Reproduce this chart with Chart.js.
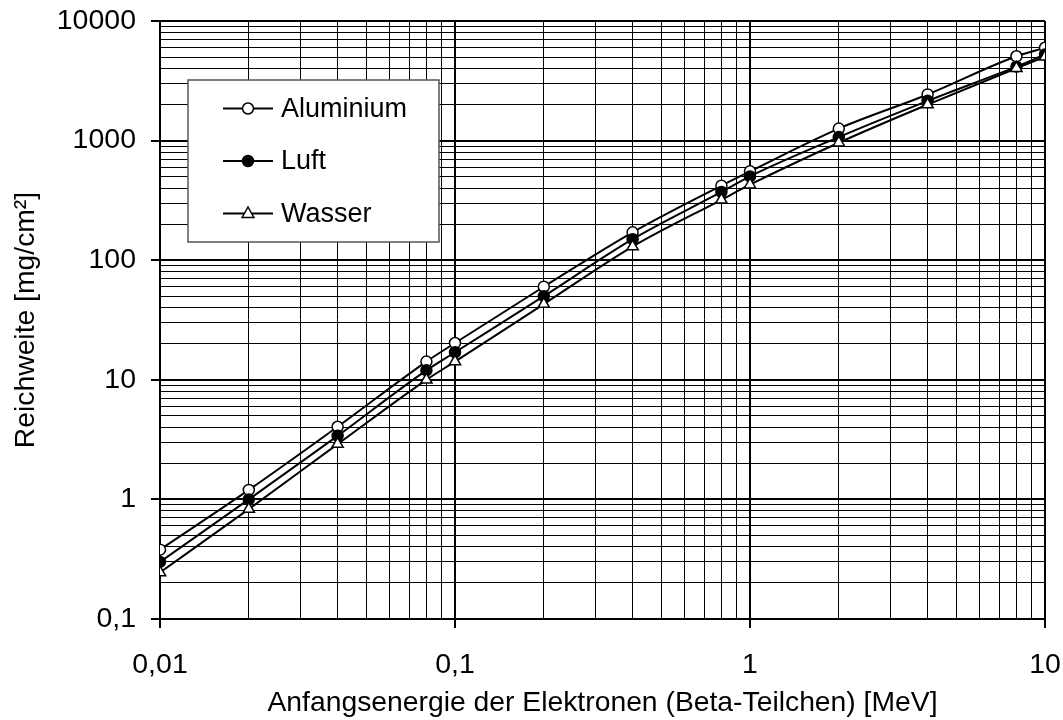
<!DOCTYPE html>
<html lang="de">
<head>
<meta charset="utf-8">
<title>Reichweite von Beta-Teilchen</title>
<script src="https://cdn.jsdelivr.net/npm/chart.js@4/dist/chart.umd.min.js"></script>
<style>
    html, body { margin: 0; padding: 0; background: #fff; }
    .chart-box { width: 1063px; height: 720px; position: relative; }
</style>
</head>
<body>
<div class="chart-box"><canvas id="rangeChart"></canvas></div>
<script>
// Data
const energy = [0.01, 0.02, 0.04, 0.08, 0.1, 0.2, 0.4, 0.8, 1, 2, 4, 8, 10];
const aluminium = [0.38, 1.2, 4.05, 14.2, 20.3, 60, 171, 420, 553, 1260, 2430, 5070, 5970];
const luft = [0.30, 1.0, 3.4, 12, 17, 50, 150, 372, 502, 1070, 2150, 4150, 5250];
const wasser = [0.245, 0.83, 2.9, 10, 14.2, 43, 130, 320, 428, 960, 2000, 4030, 5020];

const seriesNames = ['Aluminium', 'Luft', 'Wasser'];

// Axis ticks (German decimal comma)
const xMajor = [0.01, 0.1, 1, 10];
const xTickLabels = ['0,01', '0,1', '1', '10'];
const yMajor = [0.1, 1, 10, 100, 1000, 10000];
const yTickLabels = ['0,1', '1', '10', '100', '1000', '10000'];

const FONT = 'Liberation Sans, Arial, sans-serif';

// Every decade gets minor ticks at 2..9
function buildLogTicks(majors) {
    const ticks = [];
    majors.forEach((m, i) => {
        ticks.push({ value: m, major: true });
        if (i < majors.length - 1) {
            for (let k = 2; k <= 9; k++) {
                ticks.push({ value: Number((m * k).toPrecision(6)), major: false });
            }
        }
    });
    return ticks;
}

function toPoints(values) {
    return values.map((v, i) => ({ x: energy[i], y: v }));
}

function makeDataset(label, values, style, fill, order) {
    return {
        label: label,
        data: toPoints(values),
        borderColor: '#000',
        borderWidth: 2,
        pointStyle: style,
        pointRadius: style === 'triangle' ? 6.5 : 5.5,
        pointBorderWidth: 1.5,
        pointBorderColor: '#000',
        pointBackgroundColor: fill,
        backgroundColor: fill,
        cubicInterpolationMode: 'monotone',
        order: order
    };
}

// Legend box drawn inside the plot, like the original
const insideLegend = {
    id: 'insideLegend',
    afterDraw(chart) {
        const ctx = chart.ctx;
        const box = { left: 188, top: 80, width: 251, height: 162 };
        ctx.save();
        ctx.fillStyle = '#fff';
        ctx.fillRect(box.left, box.top, box.width, box.height);
        ctx.strokeStyle = '#555';
        ctx.lineWidth = 1.5;
        ctx.strokeRect(box.left, box.top, box.width, box.height);

        chart.data.datasets.forEach((ds, i) => {
            const y = 108.5 + i * 52.5;
            ctx.strokeStyle = '#000';
            ctx.lineWidth = 2;
            ctx.beginPath();
            ctx.moveTo(223, y);
            ctx.lineTo(273, y);
            ctx.stroke();

            ctx.fillStyle = ds.pointBackgroundColor;
            ctx.lineWidth = 1.5;
            ctx.beginPath();
            if (ds.pointStyle === 'triangle') {
                const r = 6.5;
                ctx.moveTo(248, y - r);
                ctx.lineTo(248 + r * 0.9, y + r * 0.6);
                ctx.lineTo(248 - r * 0.9, y + r * 0.6);
                ctx.closePath();
            } else {
                ctx.arc(248, y, 5.5, 0, Math.PI * 2);
            }
            ctx.fill();
            ctx.stroke();

            ctx.fillStyle = '#000';
            ctx.font = '27px ' + FONT;
            ctx.textAlign = 'left';
            ctx.textBaseline = 'alphabetic';
            ctx.fillText(ds.label, 281, y + 8);
        });
        ctx.restore();
    }
};

function gridOptions() {
    return {
        color: '#000',
        lineWidth: c => (c.tick && c.tick.major ? 2 : 1),
        tickColor: c => (c.tick && c.tick.major ? '#000' : 'rgba(0,0,0,0)'),
        tickWidth: 2,
        tickLength: 9,
        drawOnChartArea: true
    };
}

function initializeChart() {
    const ctx = document.getElementById('rangeChart');

    const config = {
        type: 'line',
        data: {
            datasets: [
                makeDataset(seriesNames[0], aluminium, 'circle', '#fff', 2),
                makeDataset(seriesNames[1], luft, 'circle', '#000', 1),
                makeDataset(seriesNames[2], wasser, 'triangle', '#fff', 0)
            ]
        },
        options: {
            responsive: true,
            maintainAspectRatio: false,
            animation: false,
            layout: {
                padding: { top: 21, right: 18, left: 0, bottom: 0 }
            },
            plugins: {
                legend: { display: false },
                tooltip: { enabled: false }
            },
            scales: {
                x: {
                    type: 'logarithmic',
                    min: 0.01,
                    max: 10,
                    afterBuildTicks: scale => { scale.ticks = buildLogTicks(xMajor); },
                    afterFit: scale => {
                        scale.height = 101;
                        scale.paddingLeft = 0;
                        scale.paddingRight = 0;
                    },
                    grid: gridOptions(),
                    border: { display: true, color: '#000', width: 2 },
                    ticks: {
                        autoSkip: false,
                        maxRotation: 0,
                        minRotation: 0,
                        padding: 20,
                        color: '#000',
                        font: { family: FONT, size: 28.5 },
                        callback: function(value, index, ticks) {
                            const i = xMajor.indexOf(ticks[index].value);
                            return i >= 0 ? xTickLabels[i] : '';
                        }
                    },
                    title: {
                        display: true,
                        text: 'Anfangsenergie der Elektronen (Beta-Teilchen) [MeV]',
                        color: '#000',
                        font: { family: FONT, size: 28.3 },
                        padding: { top: 0, bottom: 0 }
                    }
                },
                y: {
                    type: 'logarithmic',
                    min: 0.1,
                    max: 10000,
                    afterBuildTicks: scale => { scale.ticks = buildLogTicks(yMajor); },
                    afterFit: scale => {
                        scale.width = 160;
                        scale.paddingTop = 0;
                        scale.paddingBottom = 0;
                    },
                    grid: gridOptions(),
                    border: { display: true, color: '#000', width: 2 },
                    ticks: {
                        autoSkip: false,
                        padding: 15,
                        color: '#000',
                        font: { family: FONT, size: 28.5 },
                        callback: function(value, index, ticks) {
                            const i = yMajor.indexOf(ticks[index].value);
                            return i >= 0 ? yTickLabels[i] : '';
                        }
                    },
                    title: {
                        display: true,
                        text: 'Reichweite [mg/cm²]',
                        color: '#000',
                        font: { family: FONT, size: 28.3 },
                        padding: { top: 9, bottom: 0 }
                    }
                }
            }
        },
        plugins: [insideLegend]
    };

    new Chart(ctx, config);
}

document.addEventListener('DOMContentLoaded', initializeChart);
</script>
</body>
</html>
